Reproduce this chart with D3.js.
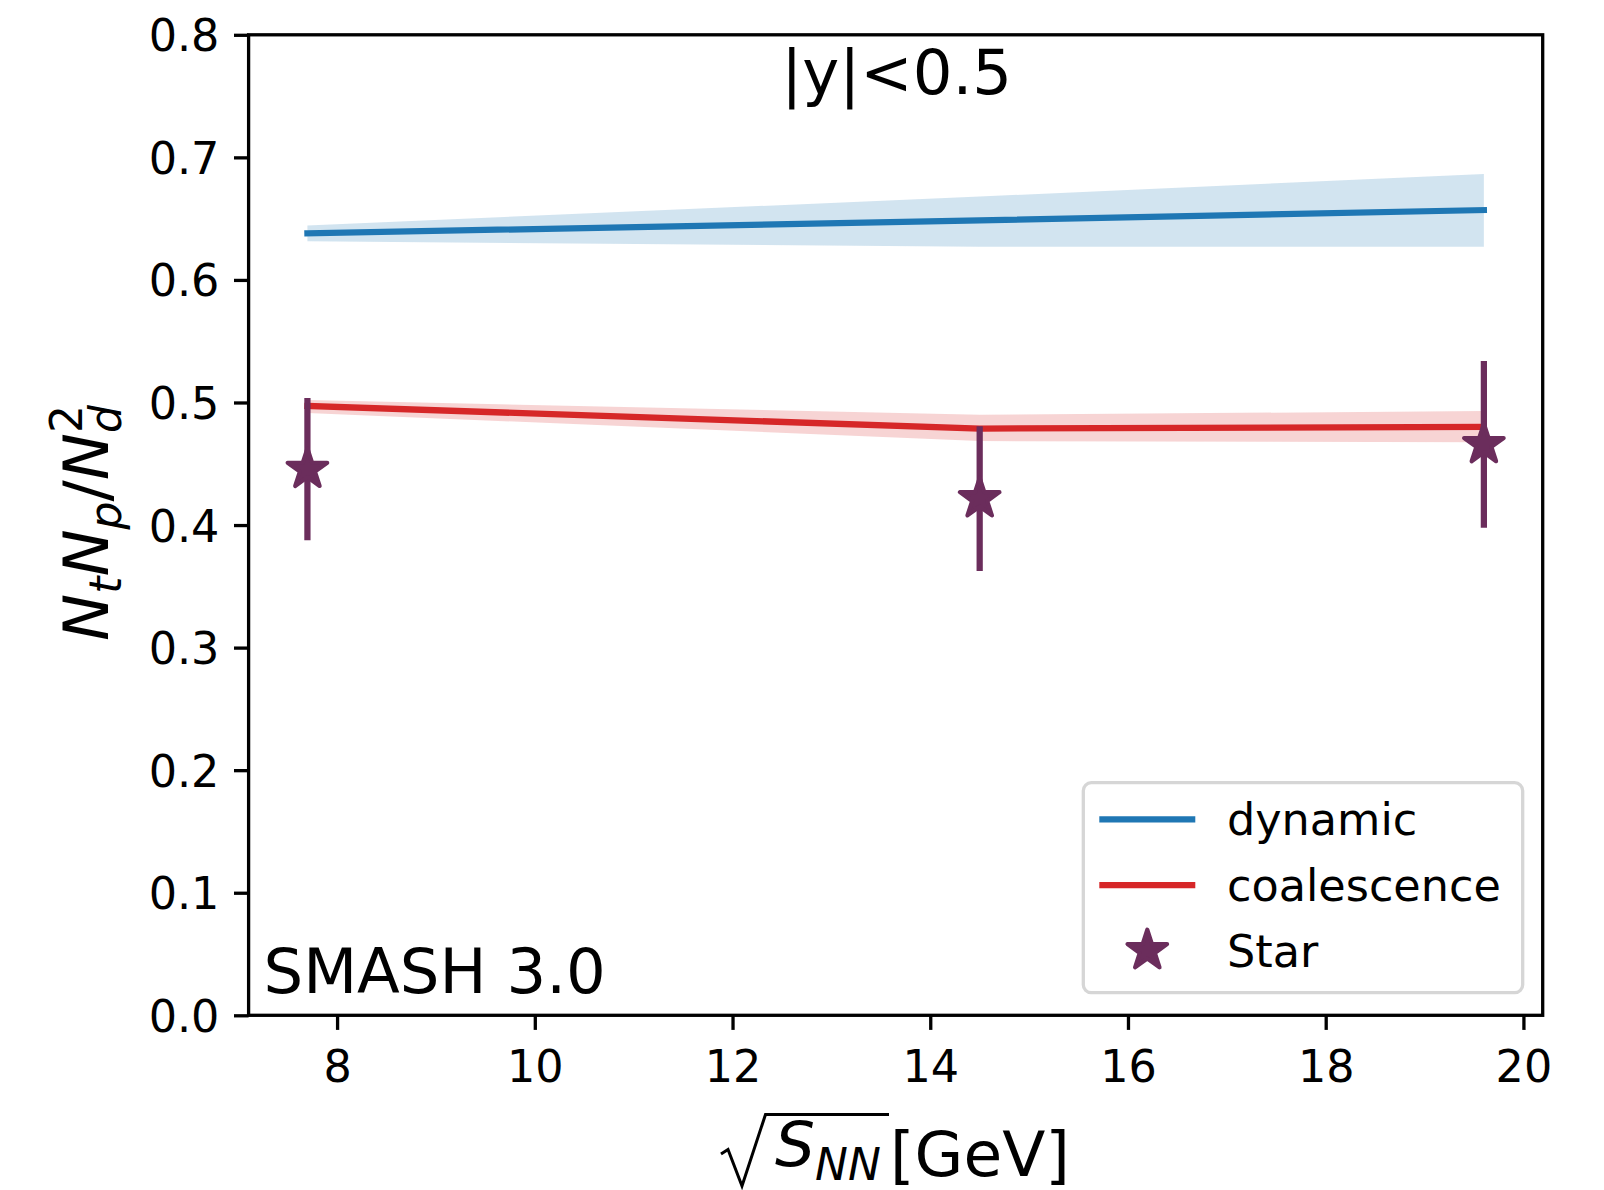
<!DOCTYPE html>
<html>
<head>
<meta charset="utf-8">
<script src="https://cdn.jsdelivr.net/npm/d3@7"></script>
<style>
  html, body { margin: 0; padding: 0; background: #ffffff; }
  svg { display: block; }
  text { font-family: "DejaVu Sans", sans-serif; fill: #000; }
</style>
</head>
<body>
<svg id="chart" width="1604" height="1190"></svg>
<script>
// ---------------- data ----------------
const energies = [7.7, 14.5, 19.6];
const dynamicMean = [0.638, 0.6485, 0.657];
const dynamicLow  = [0.6315, 0.627, 0.627];
const dynamicHigh = [0.6445, 0.668, 0.6865];
const coalMean = [0.4972, 0.4787, 0.480];
const coalLow  = [0.4915, 0.4685, 0.4675];
const coalHigh = [0.5020, 0.4900, 0.4930];
const starEnergies = [7.7, 14.5, 19.6];
const starValues = [0.4456, 0.4216, 0.4658];
const starErrors = [0.058, 0.059, 0.068];
const xTickValues = [8, 10, 12, 14, 16, 18, 20];
const yTickValues = [0.0, 0.1, 0.2, 0.3, 0.4, 0.5, 0.6, 0.7, 0.8];
const legendLabels = ["dynamic", "coalescence", "Star"];

// ---------------- layout ----------------
const W = 1604, H = 1190;
const plot = { left: 248.6, top: 34.8, right: 1542.7, bottom: 1015.3 };
const blue = "#1f77b4", red = "#d62728", purple = "#6b2d5c";
const lw = 6.25, spineW = 3.3, tickLen = 14.6;
const tickFont = 44.5, labelFont = 63;

const svg = d3.select("#chart");
svg.append("rect").attr("width", W).attr("height", H).attr("fill", "#fff");

const x = d3.scaleLinear().domain([7.105, 20.195]).range([plot.left, plot.right]);
const y = d3.scaleLinear().domain([0, 0.8]).range([plot.bottom, plot.top]);

const g = svg.append("g");

// bands
const bandArea = (lo, hi) => d3.area()
  .x((d, i) => x(energies[i]))
  .y0((d, i) => y(lo[i]))
  .y1((d, i) => y(hi[i]));
g.append("path").datum(energies).attr("d", bandArea(dynamicLow, dynamicHigh))
  .attr("fill", blue).attr("fill-opacity", 0.2);
g.append("path").datum(energies).attr("d", bandArea(coalLow, coalHigh))
  .attr("fill", red).attr("fill-opacity", 0.2);

// lines
const lineGen = vals => d3.line().x((d, i) => x(energies[i])).y((d, i) => y(vals[i]));
g.append("path").datum(energies).attr("d", lineGen(dynamicMean))
  .attr("fill", "none").attr("stroke", blue).attr("stroke-width", lw)
  .attr("stroke-linecap", "square").attr("stroke-linejoin", "round");
g.append("path").datum(energies).attr("d", lineGen(coalMean))
  .attr("fill", "none").attr("stroke", red).attr("stroke-width", lw)
  .attr("stroke-linecap", "square").attr("stroke-linejoin", "round");

// error bars + star markers
const starR = 20.8;
const starSym = d3.symbol().type(d3.symbolStar).size(starR * starR / 0.8908130915292852);
starEnergies.forEach((e, i) => {
  g.append("line")
    .attr("x1", x(e)).attr("x2", x(e))
    .attr("y1", y(starValues[i] - starErrors[i]))
    .attr("y2", y(starValues[i] + starErrors[i]))
    .attr("stroke", purple).attr("stroke-width", lw);
});
starEnergies.forEach((e, i) => {
  g.append("path").attr("d", starSym())
    .attr("transform", `translate(${x(e)},${y(starValues[i])})`)
    .attr("fill", purple).attr("stroke", purple).attr("stroke-width", 4.17)
    .attr("stroke-linejoin", "round");
});

// axes
const xAxis = d3.axisBottom(x).tickValues(xTickValues).tickSize(tickLen).tickPadding(21)
  .tickFormat(d3.format("d"));
const yAxis = d3.axisLeft(y).tickValues(yTickValues).tickSize(tickLen).tickPadding(14.6)
  .tickFormat(d3.format(".1f"));
const gx = svg.append("g").attr("transform", `translate(0,${plot.bottom})`).call(xAxis);
const gy = svg.append("g").attr("transform", `translate(${plot.left},0)`).call(yAxis);
[gx, gy].forEach(a => {
  a.select(".domain").remove();
  a.selectAll(".tick line").attr("stroke", "#000").attr("stroke-width", spineW);
  a.selectAll(".tick text").attr("font-size", tickFont).attr("font-family", "DejaVu Sans").attr("fill", "#000");
});
gy.selectAll(".tick text").attr("dy", "0.36em");

// frame
svg.append("rect")
  .attr("x", plot.left).attr("y", plot.top)
  .attr("width", plot.right - plot.left).attr("height", plot.bottom - plot.top)
  .attr("fill", "none").attr("stroke", "#000").attr("stroke-width", spineW);

// annotations
svg.append("text").attr("x", (plot.left + plot.right) / 2 + 1).attr("y", 93.5)
  .attr("text-anchor", "middle").attr("font-size", 62.5).text("|y|<0.5");
svg.append("text").attr("x", 263.5).attr("y", 993)
  .attr("font-size", 62.5).text("SMASH 3.0");

// legend
const leg = svg.append("g");
leg.append("rect").attr("x", 1083.3).attr("y", 782.7).attr("width", 439.4).attr("height", 210)
  .attr("rx", 8).attr("ry", 8).attr("fill", "#fff").attr("fill-opacity", 0.8)
  .attr("stroke", "#d6d6d6").attr("stroke-width", spineW);
const legRows = [819.3, 885, 950.5];
[blue, red].forEach((c, i) => {
  leg.append("line").attr("x1", 1099.3).attr("x2", 1195.3)
    .attr("y1", legRows[i]).attr("y2", legRows[i])
    .attr("stroke", c).attr("stroke-width", lw).attr("stroke-linecap", "butt");
});
leg.append("path").attr("d", starSym())
  .attr("transform", `translate(1147.3,${legRows[2]})`)
  .attr("fill", purple).attr("stroke", purple).attr("stroke-width", 4.17)
  .attr("stroke-linejoin", "round");
legendLabels.forEach((t, i) => {
  leg.append("text").attr("x", 1227).attr("y", legRows[i] + 16)
    .attr("font-size", tickFont).text(t);
});

// y label  N_t N_p / N_d^2
const yl = svg.append("text")
  .attr("transform", "translate(107.5,523) rotate(-90)")
  .attr("text-anchor", "middle").attr("font-size", labelFont);
const f = 44, sub = 13;
yl.append("tspan").attr("font-style", "italic").text("N");
yl.append("tspan").attr("font-style", "italic").attr("font-size", f).attr("dy", sub).text("t");
yl.append("tspan").attr("font-style", "italic").attr("dy", -sub).text("N");
yl.append("tspan").attr("font-style", "italic").attr("font-size", f).attr("dy", sub).text("p");
yl.append("tspan").attr("dy", -sub).text("/");
yl.append("tspan").attr("font-style", "italic").text("N");
const dSpan = yl.append("tspan").attr("font-style", "italic").attr("font-size", f).attr("dy", sub).text("d");
const dW = dSpan.node().getComputedTextLength();
yl.append("tspan").attr("font-size", f).attr("dy", -38.5).attr("dx", -dW).text("2");

// x label  sqrt(S_NN)[GeV]
const xl = svg.append("g");
// radical sign with its overline
xl.append("path")
  .attr("d", "M721,1154 L728,1149.5 L742,1186 L765.5,1114.5 L889,1114.5")
  .attr("fill", "none").attr("stroke", "#000").attr("stroke-width", 3)
  .attr("stroke-linejoin", "miter").attr("stroke-linecap", "butt");
const sText = xl.append("text").attr("x", 775).attr("y", 1166).attr("font-size", labelFont);
sText.append("tspan").attr("font-style", "italic").text("S");
sText.append("tspan").attr("font-style", "italic").attr("font-size", 44).attr("dy", 14).text("NN");
xl.append("text").attr("x", 890).attr("y", 1176).attr("font-size", labelFont).text("[GeV]");
</script>
</body>
</html>
